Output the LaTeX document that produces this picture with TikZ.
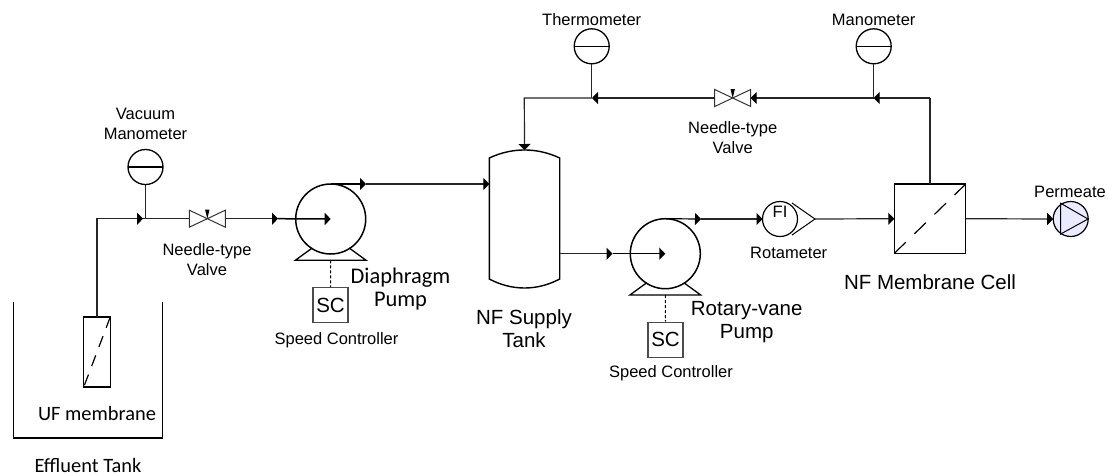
\documentclass[tikz,border=0pt]{standalone}
\usepackage{fontspec}
\setmainfont{Liberation Sans}
\newfontfamily\calibrilike{Carlito}
\usetikzlibrary{arrows.meta, calc}

\tikzset{
	pipe/.style={line width=1.2pt, black!85},
	flow/.style={pipe, -{Triangle[length=6pt,width=12pt,black]}},
	unit/.style={draw, line width=1.3pt, inner sep=0pt, outer sep=0pt},
	gauge/.style={unit, circle, minimum size=35pt},
	pumpbody/.style={unit, circle, minimum size=70pt, line width=1.5pt},
	bowtie/.style={inner sep=0pt, outer sep=0pt, minimum width=36pt, minimum height=17pt},
	sctrl/.style={draw, black!70, text=black, line width=1.2pt, inner sep=0pt, minimum size=35pt, font=\fontsize{20.5}{20}\selectfont},
	small/.style={align=center, font=\fontsize{16.5}{20}\selectfont},
	big/.style={align=center, font=\fontsize{20.5}{23.5}\selectfont},
	carl/.style={align=center, font=\calibrilike\fontsize{20.4}{23}\selectfont},
}

\begin{document}
\begin{tikzpicture}[x=1pt, y=-1pt]
	\useasboundingbox (0,0) rectangle (1108,475);

	% effluent tank and UF module
	\draw[line width=1.3pt] (13.3,302.3) -- (13.3,438) -- (162.7,438) -- (162.7,302.3);
	\node[unit, minimum width=26.5pt, minimum height=70pt] (ufmem) at (97,352) {};
	\draw[line width=1.2pt, dash pattern=on 11.5pt off 9pt] (ufmem.north east) -- (ufmem.south west);

	% instruments
	\node[gauge] (vacgauge) at (145.5,167) {};
	\node[gauge] (thermo) at (591.7,46.3) {};
	\node[gauge] (mano) at (873.7,46.3) {};
	\foreach \g in {vacgauge, thermo, mano}
		\draw[line width=1.2pt] (\g.west) -- (\g.east);

	% valves
	\node[bowtie] (valveA) at (207.3,218.7) {};
	\node[bowtie] (valveB) at (732.7,98) {};
	\foreach \v in {valveA, valveB} {
		\draw[line width=1pt, black!80] (\v.north west) -- (\v.south east) -- (\v.north east) -- (\v.south west) -- cycle;
		\fill (\v.center) -- ++(-2.2,-9) -- ++(4.4,0) -- cycle;
	}

	% pumps
	\node[pumpbody] (pumpA) at (330.7,219) {};
	\node[pumpbody] (pumpB) at (665.3,253.7) {};
	\foreach \p in {pumpA, pumpB} {
		\draw[line width=1.3pt] ($(\p.center)+(-18.5,29)$) -- ($(\p.center)+(-35.4,41.3)$) -- ($(\p.center)+(35.4,41.3)$) -- ($(\p.center)+(18.5,29)$);
	}

	% speed controllers
	\node[sctrl] (scA) at (330.5,305) {SC};
	\node[sctrl] (scB) at (665.5,339.8) {SC};
	\draw[line width=1pt, dash pattern=on 3pt off 2pt] ($(pumpA.center)+(0,41.3)$) -- (scA.north);
	\draw[line width=1pt, dash pattern=on 3pt off 2pt] ($(pumpB.center)+(0,41.3)$) -- (scB.north);

	% supply tank
	\node[inner sep=0pt, outer sep=0pt, minimum width=70.4pt, minimum height=138pt] (tank) at (524.5,219) {};
	\draw[line width=1.4pt] (489.3,158) .. controls (512,147.3) and (537,147.3) .. (559.7,158)
		-- (559.7,279) .. controls (537,291) and (512,291) .. (489.3,279) -- cycle;

	% membrane cell
	\node[unit, minimum width=71.4pt, minimum height=69.3pt] (cell) at (930,218.7) {};
	\draw[line width=1.2pt, dash pattern=on 16pt off 12pt] (cell.south west) -- (cell.north east);

	% rotameter
	\node[gauge, line width=1.2pt] (rota) at (780,219) {};
	\node[font=\fontsize{16.5}{20}\selectfont, inner sep=0pt] (rotatext) at (780,212.3) {FI};
	\coordinate (rotatip) at (815,219);
	\draw[line width=1pt] (792,203) -- (rotatip) -- (792,235);

	% permeate
	\node[gauge, fill=blue!8!white, line width=1.2pt] (perm) at (1070.7,219) {};
	\draw[line width=1pt] (1060.7,203.3) -- (1088,219) -- (1060.7,234) -- cycle;

	% junctions and arrow positions
	\coordinate (jA) at (143,218.7);
	\coordinate (bendA) at (97,218.7);
	\coordinate (inA) at (278,218.7);
	\coordinate (outA) at (366,184);
	\coordinate (outB) at (701,219);
	\coordinate (inB) at (612.5,253.7);
	\coordinate (jT) at (592,98);
	\coordinate (jM) at (873.7,98);
	\coordinate (bendR) at (930,98);
	\coordinate (bendT) at (524.3,98);

	% pipes
	\draw[pipe] (ufmem.north) -- (bendA) -- (jA) -- (valveA.west);
	\draw[flow] (bendA) -- (jA);
	\draw[pipe] (vacgauge.south) -- (145.5,218.7);
	\draw[flow] (valveA.east) -- (inA);
	\draw[flow, black, line width=1.5pt] (inA) -- (pumpA.center);
	\draw[flow, black] (pumpA.north) -- (outA);
	\draw[flow] (outA) -- (tank.west |- outA);
	\draw[flow] (tank.east |- inB) -- (inB);
	\draw[flow, black, line width=1.5pt] (inB) -- (pumpB.center);
	\draw[flow, black] (pumpB.north) -- (outB);
	\draw[flow] (outB) -- (rota.west);
	\draw[flow] (rotatip) -- (cell.west);
	\draw[flow] (cell.east) -- (perm.west);

	\draw[pipe] (cell.north) -- (bendR);
	\draw[flow] (bendR) -- (jM);
	\draw[flow] (jM) -- (valveB.east);
	\draw[flow] (valveB.west) -- (jT);
	\draw[flow] (jT) -- (bendT) -- (tank.north);
	\draw[pipe] (thermo.south) -- (thermo.south |- jT);
	\draw[pipe] (mano.south) -- (jM);

	% labels
	\node[small] (lvac) at (145.5,123.5) {Vacuum\\Manometer};
	\node[small] (lvalveA) at (207,259.5) {Needle-type\\Valve};
	\node[small] (lscA) at (336.5,340) {Speed Controller};
	\node[small] (lscB) at (671,373) {Speed Controller};
	\node[small] (lthermo) at (591.7,20) {Thermometer};
	\node[small] (lmano) at (873.7,20) {Manometer};
	\node[small] (lvalveB) at (732.7,138) {Needle-type\\Valve};
	\node[small] (lrota) at (788.7,252.7) {Rotameter};
	\node[small] (lperm) at (1070,191.7) {Permeate};
	\node[carl] (luf) at (97,413) {UF membrane};
	\node[carl] (leff) at (88,465) {Effluent Tank};
	\node[carl, font=\calibrilike\fontsize{22.4}{23.5}\selectfont] (lpumpA) at (400.5,289) {Diaphragm\\Pump};
	\node[big] (ltank) at (524,328.5) {NF Supply\\Tank};
	\node[big] (lpumpB) at (746.7,322) {Rotary-vane\\Pump};
	\node[big] (lcell) at (930,281.7) {NF Membrane Cell};
\end{tikzpicture}
\end{document}
